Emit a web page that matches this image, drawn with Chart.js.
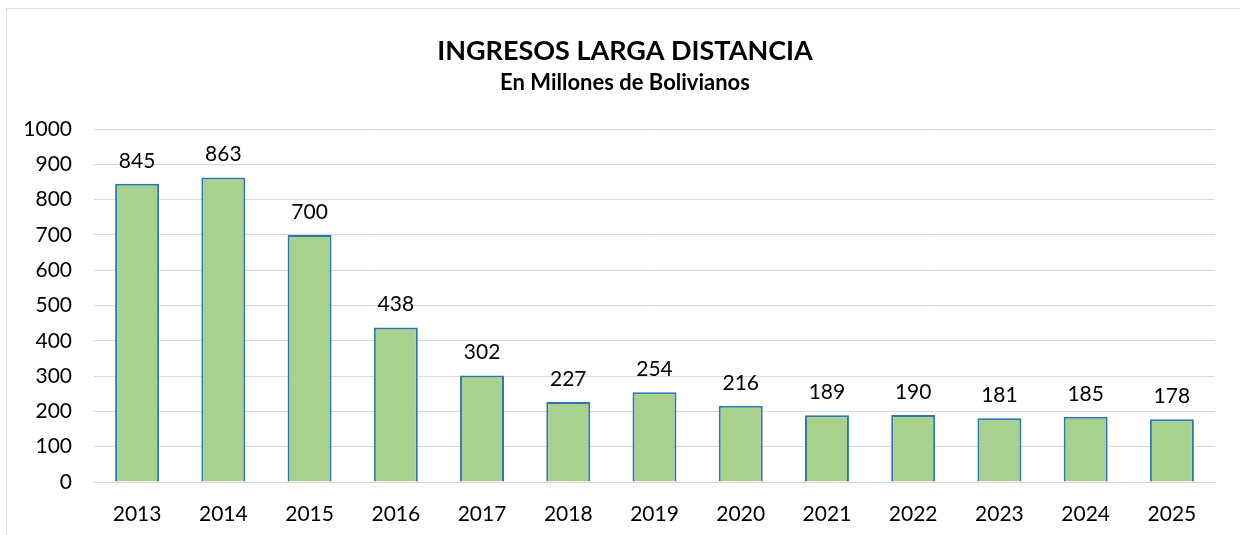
<!DOCTYPE html>
<html>
<head>
<meta charset="utf-8">
<script src="https://cdn.jsdelivr.net/npm/chart.js@4.4.1/dist/chart.umd.min.js"></script>
<style>
  html, body { margin: 0; padding: 0; background: #fff; }
  #wrap { position: relative; width: 1240px; height: 535px; overflow: hidden; }
  #frame { position: absolute; left: 6px; top: 8px; width: 1300px; height: 600px; border: 1px solid #D9DDE3; box-sizing: border-box; }
  canvas { position: absolute; left: 0; top: 0; }
</style>
</head>
<body>
<div id="wrap">
  <div id="frame"></div>
  <canvas id="c" width="1240" height="535"></canvas>
</div>
<script>
const categories = ['2013','2014','2015','2016','2017','2018','2019','2020','2021','2022','2023','2024','2025'];
const ingresos = [845, 863, 700, 438, 302, 227, 254, 216, 189, 190, 181, 185, 178];
const yTicks = [0, 100, 200, 300, 400, 500, 600, 700, 800, 900, 1000];
const titleText = 'INGRESOS LARGA DISTANCIA';
const subtitleText = 'En Millones de Bolivianos';

const FONT = 'Lato, "Open Sans", sans-serif';

const valueLabels = {
  id: 'valueLabels',
  afterDatasetsDraw(chart) {
    const ctx = chart.ctx;
    const meta = chart.getDatasetMeta(0);
    ctx.save();
    ctx.font = '21px ' + FONT;
    ctx.fillStyle = '#000';
    ctx.textAlign = 'center';
    ctx.textBaseline = 'alphabetic';
    meta.data.forEach((bar, i) => {
      ctx.fillText(String(chart.data.datasets[0].data[i]), bar.x, bar.y - 16);
    });
    ctx.restore();
  }
};

// Center the title blocks over the region 35..1215 (as in the reference)
const titleShift = {
  id: 'titleShift',
  afterLayout(chart) {
    chart.boxes.forEach(b => {
      if (b.options && b.options.text !== undefined && b.position === 'top') {
        b.left = 35;
        b.right = 1215;
        b.width = b.right - b.left;
      }
    });
  }
};

new Chart(document.getElementById('c'), {
  type: 'bar',
  data: {
    labels: categories,
    datasets: [{
      data: ingresos,
      backgroundColor: '#A9D18E',
      borderColor: '#2E75B6',
      borderWidth: 2,
      barPercentage: 0.51,
      categoryPercentage: 1.0
    }]
  },
  options: {
    responsive: false,
    animation: false,
    layout: { padding: { left: 10, right: 25, top: 0, bottom: 8 } },
    plugins: {
      legend: { display: false },
      tooltip: { enabled: false },
      title: {
        display: true,
        text: titleText,
        color: '#000',
        font: { family: FONT, size: 27, weight: 'bold' },
        padding: { top: 35, bottom: 2 }
      },
      subtitle: {
        display: true,
        text: subtitleText,
        color: '#000',
        font: { family: FONT, size: 22, weight: 'bold' },
        padding: { top: 0, bottom: 33.3 }
      }
    },
    scales: {
      x: {
        afterFit(scale) { scale.height = 45; },
        grid: { display: false, drawTicks: false },
        border: { display: true, color: '#D9D9D9', width: 1 },
        ticks: { color: '#000', font: { family: FONT, size: 21 }, padding: 20, maxRotation: 0 }
      },
      y: {
        min: 0,
        max: 1000,
        afterBuildTicks(scale) { scale.ticks = yTicks.map(v => ({ value: v })); },
        afterFit(scale) { scale.width = 84; },
        grid: { color: '#D9D9D9', lineWidth: 1, drawTicks: false },
        border: { display: false },
        ticks: { color: '#000', font: { family: FONT, size: 21 }, padding: 22, callback: (v) => String(v) }
      }
    }
  },
  plugins: [valueLabels, titleShift]
});
</script>
</body>
</html>
